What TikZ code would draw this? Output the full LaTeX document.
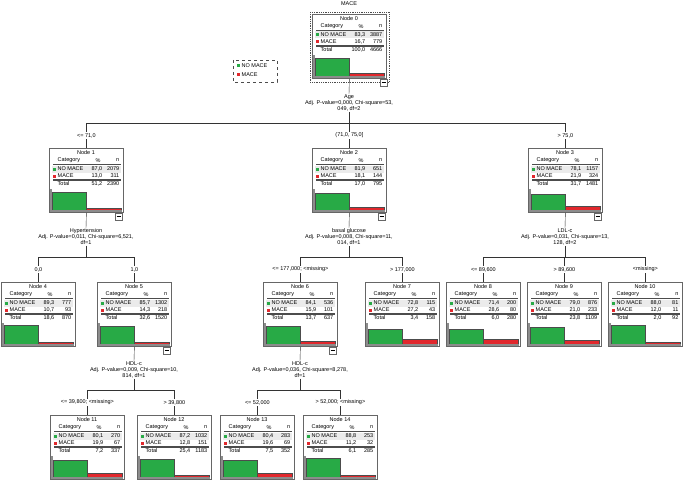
\documentclass[tikz,border=0pt]{standalone}
\usepackage{fontspec}
\setmainfont{Liberation Sans}
\usetikzlibrary{positioning,calc}
\definecolor{macegreen}{RGB}{40,170,70}
\definecolor{macered}{RGB}{225,40,45}
\tikzset{
box/.style={draw=black!60, thick, fill=white, minimum width=74pt, minimum height=64pt, anchor=north west, inner sep=0pt},
txt/.style={font=\fontsize{5.5}{6}\selectfont, inner sep=0.5pt},
split/.style={txt, align=center},
blab/.style={txt, fill=white, inner sep=1pt},
link/.style={draw=black!80, thin}
}
% one tree node: x, y, number, %NO, nNO, %MACE, nMACE, %total, ntotal
\newcommand{\treenode}[9]{%
\node[box] (tn#3) at (#1,#2) {};
\node[txt] at (#1+37,#2+5) {Node #3};
\node[txt, anchor=west] at (#1+8,#2+12.5) {Category};
\node[txt] at (#1+49,#2+12.5) {\%};
\node[txt, anchor=east] at (#1+71,#2+12.5) {n};
\draw[black!70] (#1+4,#2+16.5) -- (#1+72,#2+16.5);
\fill[black!8] (#1+3,#2+17.5) rectangle (#1+72,#2+24.5);
\fill[macegreen] (#1+3.5,#2+19.5) rectangle (#1+6.5,#2+22.5);
\node[txt, anchor=west] at (#1+8,#2+21) {NO MACE};
\node[txt, anchor=east] at (#1+54,#2+21) {#4};
\node[txt, anchor=east] at (#1+71,#2+21) {#5};
\fill[macered] (#1+3.5,#2+26.5) rectangle (#1+6.5,#2+29.5);
\node[txt, anchor=west] at (#1+8,#2+28) {MACE};
\node[txt, anchor=east] at (#1+54,#2+28) {#6};
\node[txt, anchor=east] at (#1+71,#2+28) {#7};
\draw[black!70] (#1+4,#2+31.5) -- (#1+72,#2+31.5) (#1+4,#2+32.3) -- (#1+72,#2+32.3);
\node[txt, anchor=west] at (#1+8,#2+36) {Total};
\node[txt, anchor=east] at (#1+54,#2+36) {#8};
\node[txt, anchor=east] at (#1+71,#2+36) {#9};
\pgfmathsetmacro\gh{22*(#5/#9)}
\pgfmathsetmacro\rh{22*(#7/#9)}
\fill[black!45] (#1+1,#2+41) rectangle (#1+2.5,#2+63);
\draw[black!70, fill=macegreen] (#1+3,#2+63) rectangle (#1+37,#2+63-\gh);
\draw[black!70, fill=macered] (#1+37,#2+63) rectangle (#1+72,#2+63-\rh);
\draw[black!45, very thick] (#1+1,#2+63) -- (#1+73,#2+63);
}
\newcommand{\minusbox}[2]{%
\draw[black!60, fill=white] (#1+66,#2+65) rectangle (#1+73,#2+72);
\draw (#1+67.5,#2+68.5) -- (#1+71.5,#2+68.5);
}
\begin{document}
\begin{tikzpicture}[x=1pt, y=-1pt]
\useasboundingbox (0,0) rectangle (685,484);
\node[txt] (title) at (349,4) {MACE};
% legend
\draw[dashed, black!70] (233,60) rectangle (277,82);
\fill[macegreen] (237,64) rectangle (240,67);
\node[txt, anchor=west] (lg1) at (241,65.5) {NO MACE};
\fill[macered] (237,73) rectangle (240,76);
\node[txt, anchor=west] (lg2) at (241,74.5) {MACE};
%Nodes
\draw[densely dotted, black!70, thick] (310,12) rectangle (389,82);
\treenode{312}{14}{0}{83,3}{3887}{16,7}{779}{100,0}{4666}
\minusbox{314}{14}
\treenode{49}{148}{1}{87,0}{2079}{13,0}{311}{51,2}{2390}
\minusbox{49}{148}
\treenode{312}{148}{2}{81,9}{651}{18,1}{144}{17,0}{795}
\minusbox{312}{148}
\treenode{528}{148}{3}{78,1}{1157}{21,9}{324}{31,7}{1481}
\minusbox{528}{148}
\treenode{1}{282}{4}{89,3}{777}{10,7}{93}{18,6}{870}
\treenode{97}{282}{5}{85,7}{1302}{14,3}{218}{32,6}{1520}
\minusbox{97}{282}
\treenode{263}{282}{6}{84,1}{536}{15,9}{101}{13,7}{637}
\minusbox{263}{282}
\treenode{365}{282}{7}{72,8}{115}{27,2}{43}{3,4}{158}
\treenode{446}{282}{8}{71,4}{200}{28,6}{80}{6,0}{280}
\treenode{527}{282}{9}{79,0}{876}{21,0}{233}{23,8}{1109}
\treenode{608}{282}{10}{88,0}{81}{12,0}{11}{2,0}{92}
\treenode{50}{415}{11}{80,1}{270}{19,9}{67}{7,2}{337}
\treenode{137}{415}{12}{87,2}{1032}{12,8}{151}{25,4}{1183}
\treenode{220}{415}{13}{80,4}{283}{19,6}{69}{7,5}{352}
\treenode{303}{415}{14}{88,8}{253}{11,2}{32}{6,1}{285}
%Splits
\node[split] (sp0) at (349,103) {Age\\Adj. P-value=0,000, Chi-square=53,\\049, df=2};
\node[split] (sp1) at (86,237) {Hypertension\\Adj. P-value=0,011, Chi-square=6,521,\\df=1};
\node[split] (sp2) at (349,237) {basal glucose\\Adj. P-value=0,008, Chi-square=11,\\014, df=1};
\node[split] (sp3) at (565,237) {LDL-c\\Adj. P-value=0,031, Chi-square=13,\\128, df=2};
\node[split] (sp5) at (134,370) {HDL-c\\Adj. P-value=0,009, Chi-square=10,\\814, df=1};
\node[split] (sp6) at (300,370) {HDL-c\\Adj. P-value=0,036, Chi-square=8,278,\\df=1};
\coordinate (bus0) at (349,123);
\coordinate (bus1) at (86,257);
\coordinate (bus2) at (349,257);
\coordinate (bus3) at (565,257);
\coordinate (bus5) at (134,390);
\coordinate (bus6) at (300,390);
%Lines
\foreach \p in {0,1,2,3,5,6} {
  \draw[link] (tn\p.south) -- (sp\p.north);
  \draw[link] (sp\p.south) -- (bus\p);
}
\foreach \p/\c/\l in {0/1/{<= 71,0}, 0/2/{(71,0, 75,0]}, 0/3/{> 75,0},
  1/4/{0,0}, 1/5/{1,0},
  2/6/{<= 177,000; <missing>}, 2/7/{> 177,000},
  3/8/{<= 89,600}, 3/9/{> 89,600}, 3/10/{<missing>},
  5/11/{<= 39,800; <missing>}, 5/12/{> 39,800},
  6/13/{<= 52,000}, 6/14/{> 52,000; <missing>}} {
  \draw[link] (tn\c.north) -- ++(0,-25) coordinate (k\c) -| (bus\p);
  \node[blab] at ($(tn\c.north)+(0,-12.5)$) {\l};
}
\end{tikzpicture}
\end{document}
